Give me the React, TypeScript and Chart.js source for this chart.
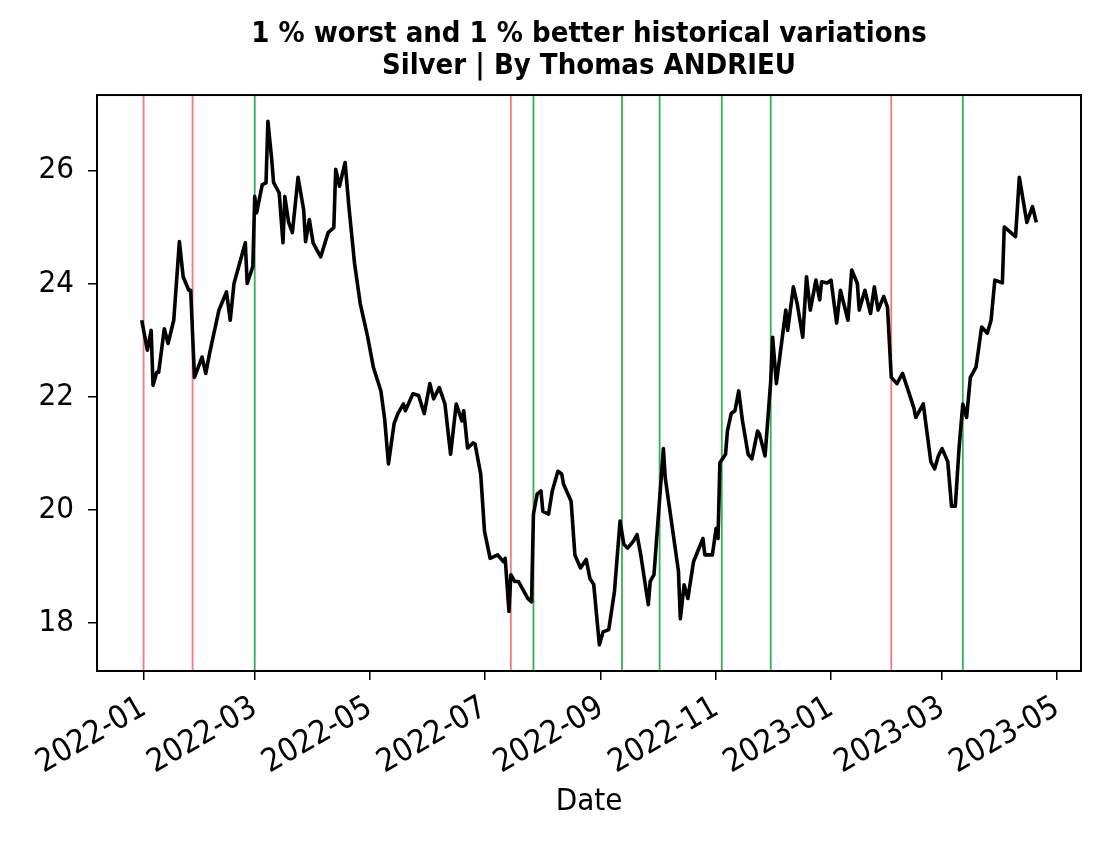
import React, { useEffect, useRef } from 'react';
import { Chart, registerables } from 'chart.js';

Chart.register(...registerables);

const TITLE_LINES = ['1 % worst and 1 % better historical variations', 'Silver | By Thomas ANDRIEU'];
const X_TITLE = 'Date';

const dates = [
  '2021-12-31', '2022-01-03', '2022-01-05', '2022-01-06', '2022-01-08', '2022-01-09', '2022-01-12', '2022-01-14',
  '2022-01-17', '2022-01-20', '2022-01-22', '2022-01-25', '2022-01-26', '2022-01-28',
  '2022-02-01', '2022-02-03', '2022-02-05', '2022-02-10', '2022-02-14', '2022-02-16', '2022-02-18', '2022-02-24',
  '2022-02-25', '2022-02-28',
  '2022-03-01', '2022-03-02', '2022-03-05', '2022-03-07', '2022-03-08', '2022-03-10', '2022-03-11', '2022-03-14',
  '2022-03-16', '2022-03-17', '2022-03-19', '2022-03-21', '2022-03-24', '2022-03-27', '2022-03-28', '2022-03-30',
  '2022-04-01', '2022-04-05', '2022-04-09', '2022-04-12', '2022-04-13', '2022-04-15', '2022-04-18', '2022-04-20',
  '2022-04-23', '2022-04-26', '2022-04-30',
  '2022-05-03', '2022-05-07', '2022-05-09', '2022-05-11', '2022-05-14', '2022-05-16', '2022-05-19', '2022-05-20',
  '2022-05-24', '2022-05-27', '2022-05-30',
  '2022-06-02', '2022-06-04', '2022-06-07', '2022-06-10', '2022-06-13', '2022-06-16', '2022-06-19', '2022-06-20',
  '2022-06-22', '2022-06-25', '2022-06-26', '2022-06-29',
  '2022-07-01', '2022-07-04', '2022-07-08', '2022-07-11', '2022-07-12', '2022-07-14', '2022-07-15', '2022-07-17',
  '2022-07-19', '2022-07-24', '2022-07-26', '2022-07-27', '2022-07-29', '2022-07-31',
  '2022-08-01', '2022-08-04', '2022-08-06', '2022-08-09', '2022-08-11', '2022-08-12', '2022-08-16', '2022-08-18',
  '2022-08-21', '2022-08-24', '2022-08-26', '2022-08-28', '2022-08-31',
  '2022-09-02', '2022-09-05', '2022-09-08', '2022-09-11', '2022-09-13', '2022-09-15', '2022-09-18', '2022-09-20',
  '2022-09-22', '2022-09-26', '2022-09-27', '2022-09-29',
  '2022-10-04', '2022-10-05', '2022-10-09', '2022-10-12', '2022-10-13', '2022-10-15', '2022-10-17', '2022-10-20',
  '2022-10-25', '2022-10-26', '2022-10-30',
  '2022-11-01', '2022-11-02', '2022-11-03', '2022-11-06', '2022-11-07', '2022-11-09', '2022-11-11', '2022-11-13',
  '2022-11-15', '2022-11-18', '2022-11-20', '2022-11-23', '2022-11-24', '2022-11-27', '2022-11-30',
  '2022-12-01', '2022-12-03', '2022-12-08', '2022-12-09', '2022-12-12', '2022-12-14', '2022-12-17', '2022-12-19',
  '2022-12-21', '2022-12-24', '2022-12-26', '2022-12-27', '2022-12-30',
  '2023-01-01', '2023-01-04', '2023-01-06', '2023-01-10', '2023-01-12', '2023-01-15', '2023-01-16', '2023-01-19',
  '2023-01-22', '2023-01-24', '2023-01-26', '2023-01-29', '2023-01-31',
  '2023-02-02', '2023-02-05', '2023-02-08', '2023-02-14', '2023-02-15', '2023-02-19', '2023-02-23', '2023-02-25',
  '2023-02-27',
  '2023-03-01', '2023-03-04', '2023-03-06', '2023-03-08', '2023-03-10', '2023-03-12', '2023-03-14', '2023-03-16',
  '2023-03-19', '2023-03-22', '2023-03-25', '2023-03-27', '2023-03-29',
  '2023-04-02', '2023-04-03', '2023-04-09', '2023-04-11', '2023-04-15', '2023-04-18', '2023-04-20',
];

const prices = [
  23.35, 22.82, 23.17, 22.2, 22.43, 22.43, 23.2, 22.94, 23.35, 24.74, 24.12, 23.88, 23.88, 22.34,
  22.7, 22.41, 22.76, 23.53, 23.85, 23.35, 24.0, 24.72, 24.0, 24.3,
  25.54, 25.25, 25.75, 25.78, 26.87, 26.2, 25.79, 25.6, 24.72, 25.54, 25.08, 24.9, 25.88, 25.3, 24.74, 25.13,
  24.72, 24.47, 24.9, 24.99, 26.02, 25.72, 26.14, 25.36, 24.36, 23.65, 23.05,
  22.52, 22.1, 21.6, 20.81, 21.52, 21.7, 21.87, 21.75, 22.05, 22.02, 21.7,
  22.23, 21.96, 22.16, 21.87, 20.98, 21.87, 21.57, 21.75, 21.09, 21.18, 21.16, 20.63,
  19.62, 19.14, 19.2, 19.08, 19.14, 18.2, 18.85, 18.73, 18.73, 18.43, 18.37, 19.92, 20.28, 20.33,
  19.97, 19.92, 20.33, 20.68, 20.63, 20.45, 20.15, 19.2, 18.97, 19.12, 18.78, 18.68, 17.61,
  17.84, 17.88, 18.55, 19.8, 19.39, 19.32, 19.44, 19.56, 19.2, 18.32, 18.73, 18.85,
  21.08, 20.56, 19.62, 18.91, 18.07, 18.67, 18.43, 19.08, 19.49, 19.2, 19.2,
  19.67, 19.49, 20.83, 20.98, 21.39, 21.7, 21.75, 22.1, 21.57, 20.98, 20.9, 21.39, 21.34, 20.95, 22.28,
  23.05, 22.23, 23.53, 23.17, 23.94, 23.65, 23.05, 24.12, 23.53, 24.06, 23.71, 24.03, 24.01,
  24.06, 23.3, 23.88, 23.35, 24.24, 24.0, 23.53, 23.88, 23.47, 23.94, 23.53, 23.77, 23.58,
  22.34, 22.23, 22.41, 21.8, 21.63, 21.87, 20.85, 20.72, 20.95,
  21.08, 20.85, 20.06, 20.06, 21.09, 21.87, 21.63, 22.34, 22.52, 23.23, 23.12, 23.35, 24.06,
  24.01, 25.0, 24.83, 25.88, 25.08, 25.36, 25.08,
];

const worstDates = ['2022-01-01', '2022-01-27', '2022-07-15', '2023-02-02'];
const bestDates = ['2022-03-01', '2022-07-27', '2022-09-12', '2022-10-02', '2022-11-04', '2022-11-30', '2023-03-12'];

const xTickDates = [
  '2022-01-01', '2022-03-01', '2022-05-01', '2022-07-01', '2022-09-01',
  '2022-11-01', '2023-01-01', '2023-03-01', '2023-05-01',
];
const yTicks = [18, 20, 22, 24, 26];

const EPOCH = Date.UTC(2022, 0, 1);
const DAY = 86400000;
const toDay = (s: string) => (Date.parse(s + 'T00:00:00Z') - EPOCH) / DAY;
const fmtMonth = (v: number) => {
  const d = new Date(EPOCH + Math.round(v) * DAY);
  return `${d.getUTCFullYear()}-${String(d.getUTCMonth() + 1).padStart(2, '0')}`;
};

const FONT = '"DejaVu Sans Condensed", "Liberation Sans Narrow", "DejaVu Sans", sans-serif';

export default function App() {
  const ref = useRef<HTMLCanvasElement | null>(null);

  useEffect(() => {
    const canvas = ref.current;
    if (!canvas) return;

    const points = dates.map((d, i) => ({ x: toDay(d), y: prices[i] }));
    const xs = points.map((p) => p.x);
    const ys = points.map((p) => p.y);
    const xLo = Math.min(...xs), xHi = Math.max(...xs);
    const yLo = Math.min(...ys), yHi = Math.max(...ys);
    const xm = (xHi - xLo) * 0.05;
    const ym = (yHi - yLo) * 0.05;

    const eventLines = {
      id: 'eventLines',
      beforeDatasetsDraw(chart: any) {
        const { ctx, chartArea, scales } = chart;
        ctx.save();
        ctx.lineWidth = 1.8;
        const draw = (list: string[], color: string) => {
          ctx.strokeStyle = color;
          list.forEach((d) => {
            const px = scales.x.getPixelForValue(toDay(d));
            ctx.beginPath();
            ctx.moveTo(px, chartArea.top);
            ctx.lineTo(px, chartArea.bottom);
            ctx.stroke();
          });
        };
        draw(worstDates, 'rgba(238, 100, 100, 0.85)');
        draw(bestDates, 'rgba(30, 165, 70, 0.9)');
        ctx.restore();
      },
    };

    const frame = {
      id: 'frame',
      afterDraw(chart: any) {
        const { ctx, chartArea } = chart;
        ctx.save();
        ctx.strokeStyle = '#000';
        ctx.lineWidth = 2;
        ctx.strokeRect(chartArea.left, chartArea.top, chartArea.right - chartArea.left, chartArea.bottom - chartArea.top);
        ctx.restore();
      },
    };

    const chart = new Chart(canvas, {
      type: 'line',
      data: {
        datasets: [
          {
            data: points,
            borderColor: '#000',
            borderWidth: 3.6,
            pointRadius: 0,
            tension: 0,
            fill: false,
            borderJoinStyle: 'round',
          },
        ],
      },
      options: {
        animation: false,
        responsive: false,
        maintainAspectRatio: false,
        layout: { padding: { left: 0, right: 19, top: 0, bottom: 0 } },
        plugins: {
          legend: { display: false },
          tooltip: { enabled: false },
          title: {
            display: true,
            fullSize: false,
            text: TITLE_LINES,
            color: '#000',
            font: { family: FONT, size: 29, weight: 'bold', lineHeight: 1.08 },
            padding: { top: 19, bottom: 13.4 },
          },
        },
        scales: {
          x: {
            type: 'linear',
            min: xLo - xm,
            max: xHi + xm,
            afterBuildTicks: (scale: any) => {
              scale.ticks = xTickDates.map((d) => ({ value: toDay(d) }));
            },
            afterFit: (scale: any) => {
              scale.height = 170;
            },
            ticks: {
              autoSkip: false,
              minRotation: 30,
              maxRotation: 30,
              padding: 9,
              color: '#000',
              font: { family: FONT, size: 32 },
              callback: (v: any) => fmtMonth(Number(v)),
            },
            grid: {
              drawOnChartArea: false,
              drawTicks: true,
              tickLength: 9,
              color: '#000',
              lineWidth: 1.5,
            },
            border: { display: false },
            title: {
              display: true,
              text: X_TITLE,
              color: '#000',
              font: { family: FONT, size: 31 },
              padding: { top: 0, bottom: 20 },
            },
          },
          y: {
            type: 'linear',
            min: yLo - ym,
            max: yHi + ym,
            afterBuildTicks: (scale: any) => {
              scale.ticks = yTicks.map((v) => ({ value: v }));
            },
            afterFit: (scale: any) => {
              scale.width = 97;
            },
            ticks: {
              padding: 14,
              color: '#000',
              font: { family: FONT, size: 31 },
              callback: (v: any) => String(v),
            },
            grid: {
              drawOnChartArea: false,
              drawTicks: true,
              tickLength: 9,
              color: '#000',
              lineWidth: 1.5,
            },
            border: { display: false },
          },
        },
      },
      plugins: [eventLines, frame],
    } as any);

    return () => chart.destroy();
  }, []);

  return (
    <div style={{ position: 'absolute', left: 0, top: 0, width: 1100, height: 841, background: '#fff' }}>
      <canvas ref={ref} width={1100} height={841} style={{ display: 'block', width: 1100, height: 841 }} />
    </div>
  );
}
